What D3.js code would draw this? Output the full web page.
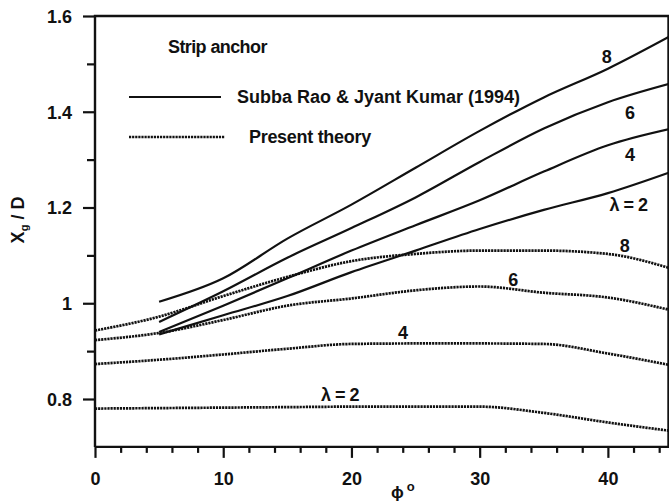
<!DOCTYPE html>
<html>
<head>
<meta charset="utf-8">
<title>strip anchor</title>
<style>
  body { margin: 0; background: #fff; }
  text { font-family: "Liberation Sans", Arial, sans-serif; font-weight: bold; fill: #111; }
</style>
</head>
<body>
<div id="chart"></div>
<script src="https://cdn.jsdelivr.net/npm/d3@7"></script>
<script>
// phi (deg) values
var phiSolid = [5, 10, 15, 20, 25, 30, 35, 40, 45];
var phiTheory = [0, 5, 10, 15, 20, 25, 30, 35, 40, 45];

// Subba Rao & Jyant Kumar (1994)
var rao2 = [0.935, 0.975, 1.015, 1.065, 1.11, 1.155, 1.195, 1.23, 1.275];
var rao4 = [0.94, 0.995, 1.052, 1.11, 1.163, 1.215, 1.275, 1.33, 1.365];
var rao6 = [0.961, 1.025, 1.095, 1.157, 1.221, 1.295, 1.365, 1.42, 1.46];
var rao8 = [1.003, 1.052, 1.135, 1.206, 1.283, 1.36, 1.43, 1.49, 1.56];

// present theory
var pt2 = [0.78, 0.781, 0.782, 0.783, 0.784, 0.784, 0.784, 0.771, 0.751, 0.733];
var pt4 = [0.873, 0.882, 0.893, 0.905, 0.915, 0.916, 0.916, 0.915, 0.895, 0.87];
var pt6 = [0.923, 0.938, 0.965, 0.995, 1.01, 1.027, 1.035, 1.022, 1.012, 0.985];
var pt8 = [0.943, 0.972, 1.015, 1.055, 1.088, 1.103, 1.11, 1.11, 1.103, 1.072];

var yTicks = [0.8, 1, 1.2, 1.4, 1.6];
var yTickLabels = ["0.8", "1", "1.2", "1.4", "1.6"];
var xTicks = [0, 10, 20, 30, 40];

var W = 669, H = 501;
var svg = d3.select("#chart").append("svg").attr("width", W).attr("height", H);

var x = d3.scaleLinear().domain([0, 45]).range([95, 672]);
var y = d3.scaleLinear().domain([0.8, 1.6]).range([399, 16]);
var y0 = y(0.7);

svg.append("clipPath").attr("id", "plot")
  .append("rect").attr("x", x(0)).attr("y", y(1.6)).attr("width", W - x(0)).attr("height", y0 - y(1.6));

// axes
var xAxis = d3.axisBottom(x).tickValues(xTicks).tickSize(11).tickFormat(d3.format("d"));
var xMinor = d3.axisBottom(x).tickValues(d3.range(2, 45, 2).filter(function(d){ return d % 10 != 0; })).tickSize(6).tickFormat("");
var yAxis = d3.axisLeft(y).tickValues(yTicks).tickSize(12).tickFormat(function(d, i){ return yTickLabels[i]; });
var yMinor = d3.axisLeft(y).tickValues([0.9, 1.1, 1.3, 1.5]).tickSize(8).tickFormat("");

function styleAxis(g) {
  g.select(".domain").remove();
  g.selectAll(".tick line").attr("stroke", "#111").attr("stroke-width", 2.2);
  g.selectAll(".tick text").attr("font-size", 18).attr("font-weight", "bold")
    .attr("font-family", "'Liberation Sans', Arial, sans-serif").attr("fill", "#111");
}

svg.append("g").attr("transform", "translate(0," + y0 + ")").call(xAxis).call(styleAxis)
  .selectAll(".tick text").attr("y", 25).attr("dy", "0.71em");
svg.append("g").attr("transform", "translate(0," + y0 + ")").call(xMinor).call(styleAxis);
svg.append("g").attr("transform", "translate(" + x(0) + ",0)").call(yAxis).call(styleAxis)
  .selectAll(".tick text").attr("x", -23).attr("dy", "0.36em");
svg.append("g").attr("transform", "translate(" + x(0) + ",0)").call(yMinor).call(styleAxis);

// frame
svg.append("path")
  .attr("d", "M" + x(0) + "," + y0 + "V" + y(1.6) + "H" + (W - 0.5) + "V" + y0 + "H" + x(0))
  .attr("fill", "none").attr("stroke", "#111").attr("stroke-width", 2.4);

// curves
var lineSolid = d3.line().x(function(d, i){ return x(phiSolid[i]); }).y(function(d){ return y(d); }).curve(d3.curveMonotoneX);
var lineTheory = d3.line().x(function(d, i){ return x(phiTheory[i]); }).y(function(d){ return y(d); }).curve(d3.curveMonotoneX);

var plot = svg.append("g").attr("clip-path", "url(#plot)");
[rao2, rao4, rao6, rao8].forEach(function(s){
  plot.append("path").attr("d", lineSolid(s)).attr("fill", "none").attr("stroke", "#111").attr("stroke-width", 2.2);
});
[pt2, pt4, pt6, pt8].forEach(function(s){
  plot.append("path").attr("d", lineTheory(s)).attr("fill", "none").attr("stroke", "#111")
    .attr("stroke-width", 2.7).attr("stroke-dasharray", "2.2 0.9");
});

// curve labels
var curveLabels = [
  {t: "8", phi: 39.9, v: 1.501}, {t: "6", phi: 41.7, v: 1.384}, {t: "4", phi: 41.7, v: 1.298},
  {t: "\u03bb = 2", phi: 41.6, v: 1.192},
  {t: "8", phi: 41.3, v: 1.108}, {t: "6", phi: 32.6, v: 1.037}, {t: "4", phi: 24, v: 0.926},
  {t: "\u03bb = 2", phi: 19.1, v: 0.795}
];
svg.selectAll(".clab").data(curveLabels).enter().append("text")
  .attr("x", function(d){ return x(d.phi); }).attr("y", function(d){ return y(d.v); })
  .attr("text-anchor", "middle").attr("font-size", 18).attr("letter-spacing", -0.5).text(function(d){ return d.t; });

// legend
svg.append("text").attr("x", 168).attr("y", 53).attr("font-size", 18).attr("letter-spacing", -0.6).text("Strip anchor");
svg.append("line").attr("x1", 129).attr("x2", 221).attr("y1", 97).attr("y2", 97).attr("stroke", "#111").attr("stroke-width", 2.2);
svg.append("text").attr("x", 237).attr("y", 103).attr("font-size", 18).text("Subba Rao & Jyant Kumar (1994)");
svg.append("line").attr("x1", 129).attr("x2", 225).attr("y1", 137).attr("y2", 137).attr("stroke", "#111")
  .attr("stroke-width", 2.7).attr("stroke-dasharray", "2.2 0.9");
svg.append("text").attr("x", 249).attr("y", 143).attr("font-size", 18).attr("letter-spacing", -0.3).text("Present theory");

// axis titles
var yt = svg.append("text").attr("transform", "translate(24,220) rotate(-90)").attr("text-anchor", "middle").attr("font-size", 18);
yt.append("tspan").text("X");
yt.append("tspan").attr("font-size", 11).attr("dy", 4).text("g");
yt.append("tspan").attr("dy", -4).text(" / D");

var xt = svg.append("text").attr("x", 391).attr("y", 498).attr("font-size", 17);
xt.append("tspan").text("\u03d5");
xt.append("tspan").attr("font-size", 13).attr("dy", -7).attr("dx", 3).text("o");
</script>
</body>
</html>
